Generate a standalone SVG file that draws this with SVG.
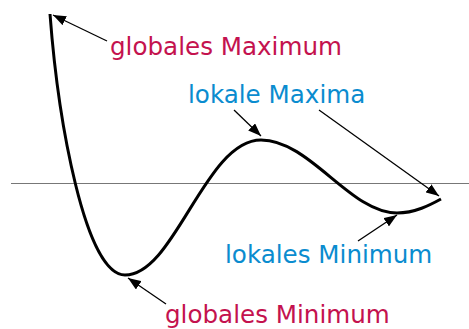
<svg xmlns="http://www.w3.org/2000/svg" width="469" height="329" viewBox="0 0 469 329">
<style>
.lbl{font-family:"DejaVu Sans",Verdana,sans-serif;font-size:24.6px}
.red{fill:#c4124e}
.blue{fill:#0a8ccf}
.arr{stroke:#000;stroke-width:1.3;fill:none;marker-end:url(#ah)}
</style>
<defs>
<marker id="ah" markerUnits="userSpaceOnUse" markerWidth="14" markerHeight="10" refX="13" refY="5" orient="auto">
<path d="M0,0 L13,5 L0,10 Z" fill="#000"/>
</marker>
</defs>
<g id="axis"><line x1="11" y1="183.5" x2="469" y2="183.5" stroke="#777" stroke-width="1"/></g>
<g id="curve"><path d="M50,14 C58,120 85,275 125,275 C175,275 205,140 261,140 C310,140 350,213 397,213 C415,213 430,205 441,199" fill="none" stroke="#000" stroke-width="3"/></g>
<g id="connectors">
<line class="arr" x1="107" y1="41" x2="53" y2="15"/>
<line class="arr" x1="234" y1="110" x2="261" y2="136"/>
<line class="arr" x1="319" y1="110" x2="439" y2="196"/>
<line class="arr" x1="358" y1="241" x2="397" y2="215"/>
<line class="arr" x1="166" y1="304" x2="128" y2="278"/>
</g>
<g id="globales-maximum"><text class="lbl red" x="110" y="55">globales Maximum</text></g>
<g id="lokale-maxima"><text class="lbl blue" x="188" y="103">lokale Maxima</text></g>
<g id="lokales-minimum"><text class="lbl blue" x="225" y="263">lokales Minimum</text></g>
<g id="globales-minimum"><text class="lbl red" x="165" y="323">globales Minimum</text></g>
</svg>
